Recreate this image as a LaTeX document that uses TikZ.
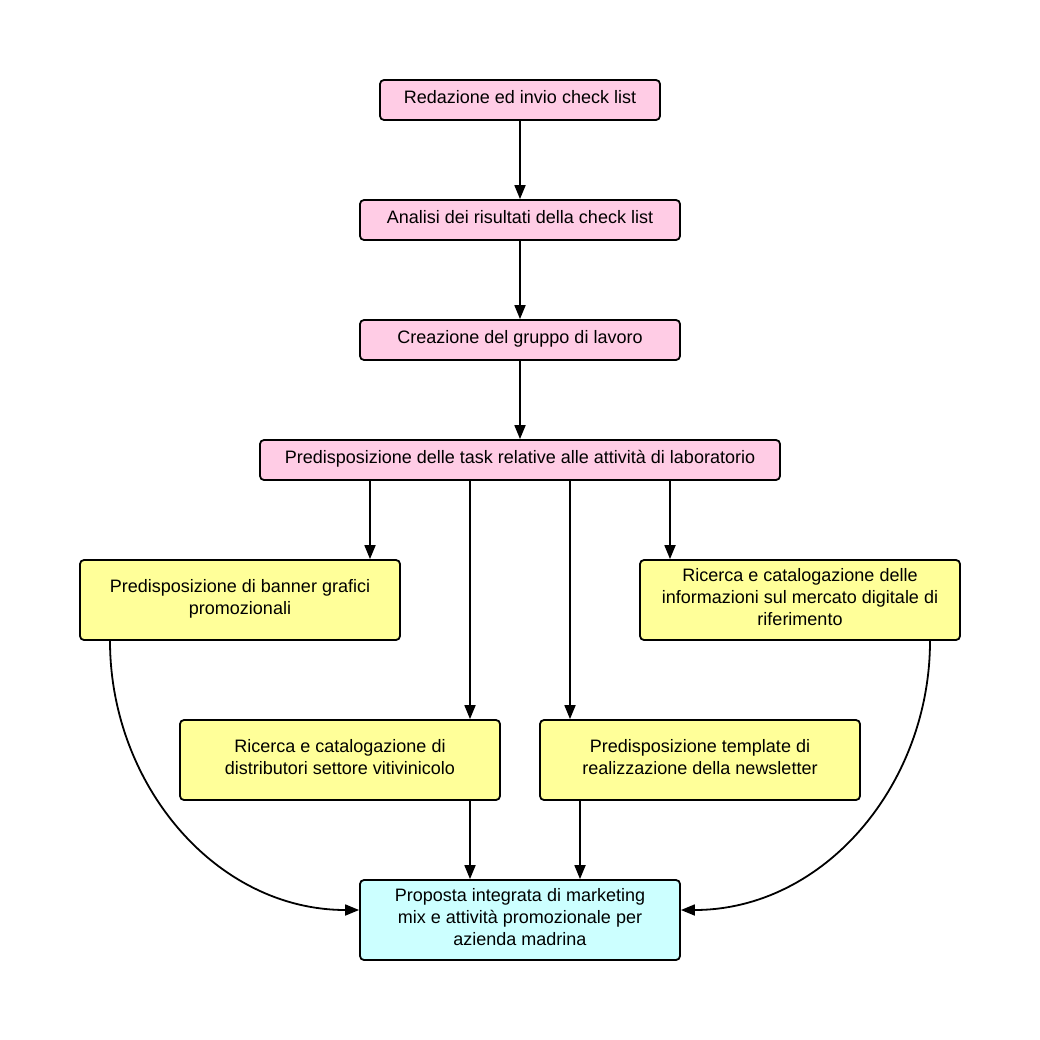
\documentclass[tikz,border=0pt]{standalone}
\usepackage{fontspec}
\setmainfont{Liberation Sans}
\usetikzlibrary{arrows.meta}

\definecolor{taskpink}{HTML}{FFCCE5}
\definecolor{taskyellow}{HTML}{FFFF99}
\definecolor{taskcyan}{HTML}{CCFFFF}

\newcommand{\boxtext}[3]{\parbox[c][#2][c]{#1}{\centering\strut#3\strut\par\vspace{2pt}}}

\tikzset{
    task/.style={shape=rectangle,draw=black,line width=1.8pt,rounded corners=4pt,inner sep=0pt},
    pinkbox/.style={task,fill=taskpink},
    yellowbox/.style={task,fill=taskyellow},
    cyanbox/.style={task,fill=taskcyan},
    arr/.style={line width=1.8pt,-{Triangle[length=14pt,width=11pt]}}
}

\begin{document}
\begin{tikzpicture}[x=1pt,y=-1pt,font=\fontsize{18}{22}\selectfont]
        \useasboundingbox (0,0) rectangle (1040,1040);
        \node[pinkbox] (redazione) at (520,100) {\boxtext{280pt}{40pt}{Redazione ed invio check list}};
        \node[pinkbox] (analisi) at (520,220) {\boxtext{320pt}{40pt}{Analisi dei risultati della check list}};
        \node[pinkbox] (gruppo) at (520,340) {\boxtext{320pt}{40pt}{Creazione del gruppo di lavoro}};
        \node[pinkbox] (task) at (520,460) {\boxtext{520pt}{40pt}{Predisposizione delle task relative alle attività di laboratorio}};
        \node[yellowbox] (banner) at (240,600) {\boxtext{320pt}{80pt}{Predisposizione di banner grafici\\ promozionali}};
        \node[yellowbox] (mercato) at (800,600) {\boxtext{320pt}{80pt}{Ricerca e catalogazione delle\\ informazioni sul mercato digitale di\\ riferimento}};
        \node[yellowbox] (distributori) at (340,760) {\boxtext{320pt}{80pt}{Ricerca e catalogazione di\\ distributori settore vitivinicolo}};
        \node[yellowbox] (newsletter) at (700,760) {\boxtext{320pt}{80pt}{Predisposizione template di\\ realizzazione della newsletter}};
        \node[cyanbox] (proposta) at (520,920) {\boxtext{320pt}{80pt}{Proposta integrata di marketing\\ mix e attività promozionale per\\ azienda madrina}};

        \path[arr]
        (redazione) edge (analisi)
        (analisi) edge (gruppo)
        (gruppo) edge (task)
        ([xshift=-150pt]task.south) edge ([xshift=130pt]banner.north)
        ([xshift=-50pt]task.south) edge ([xshift=130pt]distributori.north)
        ([xshift=50pt]task.south) edge ([xshift=-130pt]newsletter.north)
        ([xshift=150pt]task.south) edge ([xshift=-130pt]mercato.north)
        ([xshift=130pt]distributori.south) edge ([xshift=-50pt]proposta.north)
        ([xshift=-120pt]newsletter.south) edge ([xshift=60pt]proposta.north)
        ([xshift=-130pt]banner.south) edge[out=-90,in=180] ([yshift=10pt]proposta.west)
        ([xshift=130pt]mercato.south) edge[out=-90,in=0] ([yshift=10pt]proposta.east)
        ;
\end{tikzpicture}
\end{document}
